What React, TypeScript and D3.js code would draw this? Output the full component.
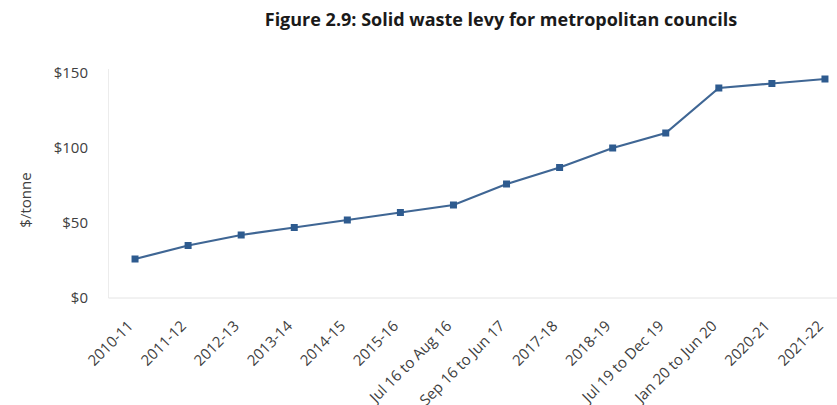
import React from "react";
import * as d3 from "d3";

// Solid waste levy, metropolitan councils ($ per tonne)
const periods = [
  "2010-11",
  "2011-12",
  "2012-13",
  "2013-14",
  "2014-15",
  "2015-16",
  "Jul 16 to Aug 16",
  "Sep 16 to Jun 17",
  "2017-18",
  "2018-19",
  "Jul 19 to Dec 19",
  "Jan 20 to Jun 20",
  "2020-21",
  "2021-22",
];
const levy = [26, 35, 42, 47, 52, 57, 62, 76, 87, 100, 110, 140, 143, 146];
const yTicks = [0, 50, 100, 150];

const W = 837;
const H = 405;
const plot = { left: 108.5, right: 851.5, top: 73, bottom: 298 };
const FONT = "'Open Sans', sans-serif";
const LINE = "#3f6694";
const MARK = "#2e5b8f";

export default function App() {
  const x = d3
    .scalePoint<string>()
    .domain(periods)
    .range([plot.left, plot.right])
    .padding(0.5);
  const y = d3.scaleLinear().domain([0, 150]).range([plot.bottom, plot.top]);

  const line = d3
    .line<number>()
    .x((_, i) => x(periods[i]) as number)
    .y((d) => y(d));

  return (
    <svg
      width={W}
      height={H}
      style={{ position: "absolute", left: 0, top: 0, background: "#fff" }}
      fontFamily={FONT}
    >
      <text
        x={501}
        y={26}
        textAnchor="middle"
        fontSize={18}
        fontWeight={700}
        fill="#1a1a1a"
      >
        Figure 2.9: Solid waste levy for metropolitan councils
      </text>

      {/* axis frame */}
      <line x1={plot.left} x2={plot.left} y1={plot.top - 4} y2={plot.bottom} stroke="#ececec" />
      <line x1={plot.left} x2={plot.right} y1={plot.bottom} y2={plot.bottom} stroke="#e4e4e4" />

      {/* y ticks */}
      {yTicks.map((t) => (
        <text
          key={t}
          x={88}
          y={y(t)}
          dy="0.35em"
          textAnchor="end"
          fontSize={15}
          fill="#404040"
        >
          {`$${t}`}
        </text>
      ))}
      <text
        transform="translate(31,200) rotate(-90)"
        textAnchor="middle"
        fontSize={15}
        fill="#404040"
      >
        $/tonne
      </text>

      {/* x labels */}
      {periods.map((p) => (
        <text
          key={p}
          transform={`translate(${(x(p) as number) - 1},${plot.bottom + 29}) rotate(-45)`}
          textAnchor="end"
          fontSize={15}
          fill="#404040"
        >
          {p}
        </text>
      ))}

      <path d={line(levy) || ""} fill="none" stroke={LINE} strokeWidth={2.2} />
      {levy.map((v, i) => (
        <rect
          key={periods[i]}
          x={(x(periods[i]) as number) - 3.5}
          y={y(v) - 3.5}
          width={7}
          height={7}
          fill={MARK}
        />
      ))}
    </svg>
  );
}
